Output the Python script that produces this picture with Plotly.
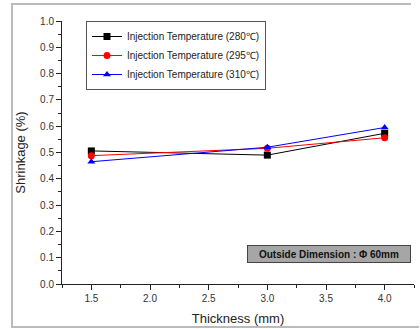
import plotly.graph_objects as go

thickness = [1.5, 3.0, 4.0]
s280 = [0.506, 0.490, 0.573]
s295 = [0.488, 0.516, 0.556]
s310 = [0.465, 0.520, 0.595]
names = ["Injection Temperature (280\u2103)", "Injection Temperature (295\u2103)", "Injection Temperature (310\u2103)"]
colors = ["#000000", "#ff0000", "#0000ff"]
symbols = ["square", "circle", "triangle-up"]

fig = go.Figure()
for ys, nm, c, sym in zip([s280, s295, s310], names, colors, symbols):
    fig.add_trace(go.Scatter(x=thickness, y=ys, name=nm, mode="lines+markers",
                             line=dict(color=c, width=1),
                             marker=dict(symbol=sym, size=7, color=c)))

W, H = 420, 329
L, R, T, B = 62, 6, 21, 45
pw, ph = W - L - R, H - T - B

def px(x):
    return (x - L) / pw

def py(y):
    return (H - B - y) / ph

fig.update_layout(
    width=W, height=H,
    margin=dict(l=L, r=R, t=T, b=B),
    paper_bgcolor="white", plot_bgcolor="white",
    font=dict(family="Arial, Liberation Sans", size=11, color="#222"),
    showlegend=True,
    legend=dict(x=px(86), y=py(21), xanchor="left", yanchor="top",
                bordercolor="#555", borderwidth=1, bgcolor="white",
                font=dict(size=10, color="#222"), tracegroupgap=0,
                itemwidth=30),
    xaxis=dict(range=[1.25, 4.25], tickmode="array",
               tickvals=[1.5, 2.0, 2.5, 3.0, 3.5, 4.0],
               ticktext=["1.5", "2.0", "2.5", "3.0", "3.5", "4.0"],
               ticks="outside", ticklen=5, tickcolor="#222",
               minor=dict(ticks="outside", ticklen=3, dtick=0.25, tick0=1.25, tickcolor="#222"),
               showline=True, linecolor="#222", linewidth=1, showgrid=False, zeroline=False,
               title=dict(text="Thickness (mm)", font=dict(size=13), standoff=10),
               tickfont=dict(size=10, color="#333")),
    yaxis=dict(range=[0, 1.0], tickmode="array",
               tickvals=[0, 0.1, 0.2, 0.3, 0.4, 0.5, 0.6, 0.7, 0.8, 0.9, 1.0],
               ticktext=["0.0", "0.1", "0.2", "0.3", "0.4", "0.5", "0.6", "0.7", "0.8", "0.9", "1.0"],
               ticks="outside", ticklen=5, tickcolor="#222",
               minor=dict(ticks="outside", ticklen=3, dtick=0.05, tickcolor="#222"),
               showline=True, linecolor="#222", linewidth=1, showgrid=False, zeroline=False,
               title=dict(text="Shrinkage (%)", font=dict(size=13), standoff=11),
               tickfont=dict(size=10, color="#333")),
)

# outer frame (left, top, bottom edges)
fig.add_shape(type="path", xref="paper", yref="paper",
              path=f"M {px(411)} {py(4)} L {px(12)} {py(4)} L {px(12)} {py(327)} L {px(419)} {py(327)}",
              line=dict(color="#bbbbbb", width=2), layer="below")

fig.add_annotation(xref="paper", yref="paper", x=px(329), y=py(254),
                   xanchor="center", yanchor="middle",
                   text="<b>Outside Dimension : \u03a6 60mm</b>", showarrow=False,
                   bgcolor="#a6a6a6", bordercolor="#444", borderwidth=1,
                   font=dict(size=10, color="#111"), width=160, height=14)

fig.write_html("out.html")
